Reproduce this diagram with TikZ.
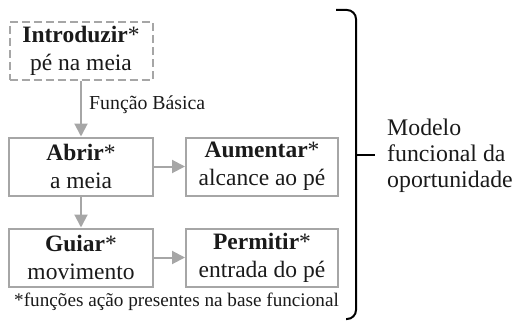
\documentclass[tikz,border=0pt]{standalone}
\usepackage{fontspec}
\setmainfont{Liberation Serif}
\usetikzlibrary{arrows.meta}
\definecolor{boxgray}{HTML}{A6A6A6}
\definecolor{textdark}{HTML}{1A1A1A}
\begin{document}
\begin{tikzpicture}[x=1pt,y=-1pt,
  box/.style={draw=boxgray, line width=2pt, minimum height=58pt, inner sep=0pt,
    align=center, text=textdark, font=\fontsize{23.5}{28}\selectfont},
  arr/.style={draw=boxgray, line width=2pt, -{Triangle[width=13pt,length=13pt]}},
  txt/.style={text=textdark, inner sep=0pt}]
\useasboundingbox (0,0) rectangle (514,321);
\node[box, dashed, dash pattern=on 8pt off 4pt, minimum width=143pt] (intro) at (81,51)
  {\textbf{Introduzir}*\\pé na meia};
\node[box, minimum width=144pt] (abrir) at (81,166.5) {\textbf{Abrir}*\\a meia};
\node[box, minimum width=152pt] (aument) at (262,166.5) {\textbf{Aumentar}*\\alcance ao pé};
\node[box, minimum width=144pt] (guiar) at (81,257.5) {\textbf{Guiar}*\\movimento};
\node[box, minimum width=152pt] (permit) at (262,257.5) {\textbf{Permitir}*\\entrada do pé};
\draw[arr] (intro) -- (abrir);
\draw[arr] (abrir) -- (aument);
\draw[arr] (abrir) -- (guiar);
\draw[arr] (guiar) -- (permit);
\node[txt, anchor=west, font=\fontsize{19.8}{22}\selectfont] (lbl) at (89,105) {Função Básica};
\node[txt, anchor=west, font=\fontsize{19.2}{22}\selectfont] (foot) at (14,302)
  {*funções ação presentes na base funcional};
\draw[line width=2pt, rounded corners=9pt] (336,10) -- (356,10) -- (356,319) -- (346,319);
\coordinate (bm) at (356,155);
\coordinate (bt) at (375,155);
\draw[line width=2pt] (bm) -- (bt);
\node[txt, anchor=west, align=left, font=\fontsize{23.8}{26}\selectfont] (modelo) at (387,156)
  {Modelo\\funcional da\\oportunidade};
\end{tikzpicture}
\end{document}
